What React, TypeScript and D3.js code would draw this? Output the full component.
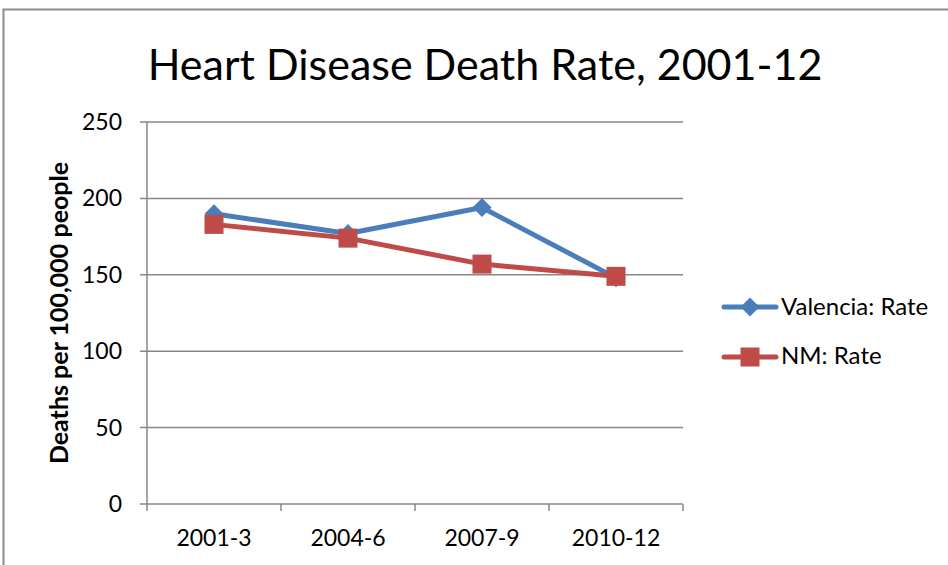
import React from "react";
import * as d3 from "d3";

const categories = ["2001-3", "2004-6", "2007-9", "2010-12"];
const valenciaRate = [190, 177, 194, 148];
const nmRate = [183, 174, 157, 149];
const yTicks = [0, 50, 100, 150, 200, 250];
const seriesNames = ["Valencia: Rate", "NM: Rate"];
const title = "Heart Disease Death Rate, 2001-12";
const yTitle = "Deaths per 100,000 people";

const W = 948, H = 565;
const BLUE = "#4A7EBB";
const RED = "#BE4B48";
const GRID = "#878787";
const FONT = "Lato, Calibri, sans-serif";

export default function App() {
  const x = d3.scaleBand().domain(categories).range([147, 683]);
  const y = d3.scaleLinear().domain([0, 250]).range([504, 122]);
  const cx = (c: string) => (x(c) as number) + x.bandwidth() / 2;
  const line = d3.line<number>().x((_, i) => cx(categories[i])).y((d) => y(d));
  const diamond = (px: number, py: number, r: number) =>
    `M${px},${py - r}L${px + r},${py}L${px},${py + r}L${px - r},${py}Z`;
  const xTicks = [...categories.map((c) => x(c) as number), 683];

  return (
    <svg width={W} height={H} style={{ position: "absolute", left: 0, top: 0, background: "#fff" }} fontFamily={FONT}>
      <rect x={0} y={0} width={W} height={H} fill="#fff" />
      <path d={`M3.5,${H}V9.5H${W}`} fill="none" stroke="#8c8c8c" strokeWidth={2} />
      <text x={485} y={80} textAnchor="middle" fontSize={43} fill="#000">{title}</text>
      {yTicks.map((t) => (
        <g key={t}>
          <line x1={140} x2={683} y1={y(t)} y2={y(t)} stroke={GRID} strokeWidth={1.5} />
          <text x={122} y={y(t)} dy="0.35em" textAnchor="end" fontSize={23} fill="#000">{t}</text>
        </g>
      ))}
      <line x1={147} x2={147} y1={122} y2={504} stroke={GRID} strokeWidth={1.5} />
      {xTicks.map((t, i) => (
        <line key={i} x1={t} x2={t} y1={504} y2={511} stroke={GRID} strokeWidth={1.5} />
      ))}
      {categories.map((c) => (
        <text key={c} x={cx(c)} y={538} dy="0.35em" textAnchor="middle" fontSize={23} fill="#000">{c}</text>
      ))}
      <text transform={`translate(59,313) rotate(-90)`} textAnchor="middle" dy="0.35em" fontSize={25} fontWeight="bold" fill="#000">{yTitle}</text>
      <path d={line(valenciaRate) || ""} fill="none" stroke={BLUE} strokeWidth={5} strokeLinejoin="round" strokeLinecap="round" />
      {valenciaRate.map((v, i) => (
        <path key={i} d={diamond(cx(categories[i]), y(v), 9.5)} fill={BLUE} />
      ))}
      <path d={line(nmRate) || ""} fill="none" stroke={RED} strokeWidth={5} strokeLinejoin="round" strokeLinecap="round" />
      {nmRate.map((v, i) => (
        <rect key={i} x={cx(categories[i]) - 9.5} y={y(v) - 9.5} width={19} height={19} fill={RED} />
      ))}
      <g>
        <line x1={724} x2={776} y1={307} y2={307} stroke={BLUE} strokeWidth={5} strokeLinecap="round" />
        <path d={diamond(750, 307, 9.5)} fill={BLUE} />
        <text x={781} y={307} dy="0.35em" fontSize={24} fill="#000">{seriesNames[0]}</text>
        <line x1={724} x2={776} y1={357} y2={357} stroke={RED} strokeWidth={5} strokeLinecap="round" />
        <rect x={740.5} y={347.5} width={19} height={19} fill={RED} />
        <text x={781} y={356} dy="0.35em" fontSize={24} fill="#000">{seriesNames[1]}</text>
      </g>
    </svg>
  );
}
